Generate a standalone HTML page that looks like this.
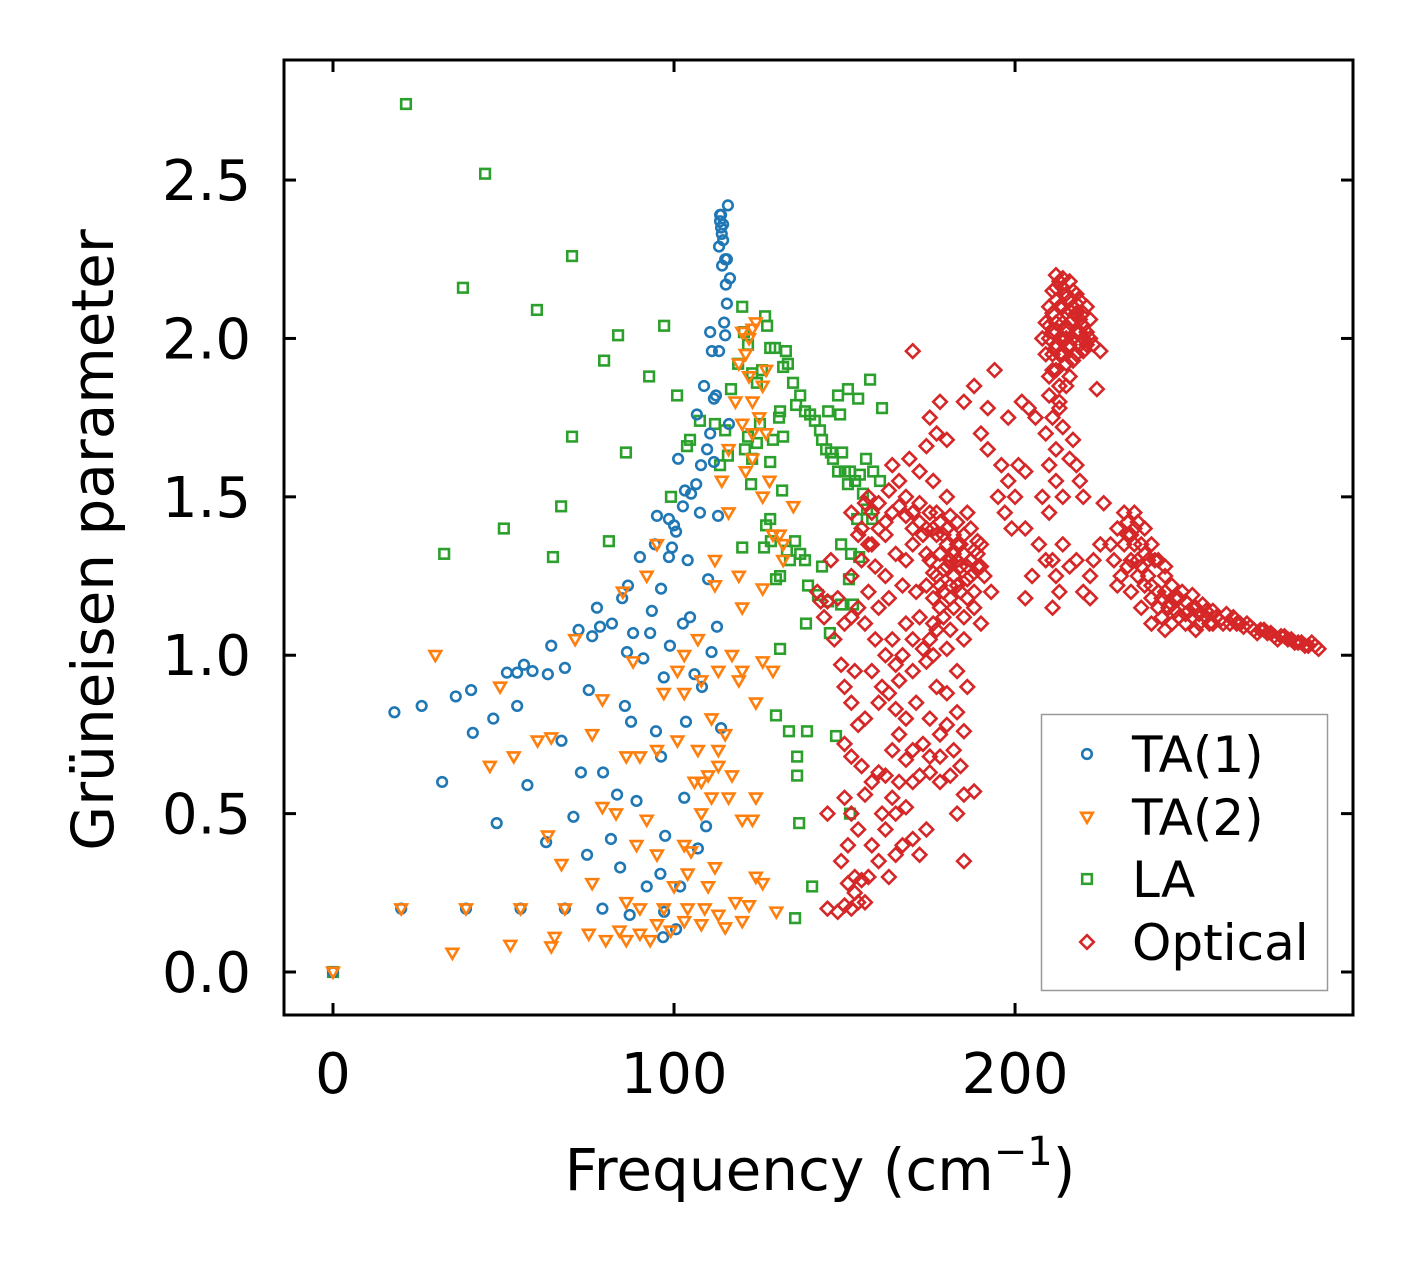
<!DOCTYPE html>
<html><head><meta charset="utf-8"><style>
html,body{margin:0;padding:0;background:#fff;}
svg text{font-family:"DejaVu Sans","Liberation Sans",sans-serif;fill:#000;}
</style></head><body>
<svg id="chart" width="1413" height="1264" viewBox="0 0 1413 1264" xmlns="http://www.w3.org/2000/svg">
<rect width="1413" height="1264" fill="#fff"/>
<g id="marks"></g>
<g id="axes"></g>
</svg>
<script>
const xTicks=[0,100,200];
const xTickLabels=["0","100","200"];
const yTicks=[0,0.5,1,1.5,2,2.5];
const yTickLabels=["0.0","0.5","1.0","1.5","2.0","2.5"];
const seriesNames=["TA(1)","TA(2)","LA","Optical"];
const ta1=[[0,0],[18,0.82],[26,0.84],[36,0.87],[40.5,0.89],[20,0.2],[39,0.2],[55,0.2],[68,0.2],[79,0.2],[32,0.6],[48,0.47],[41,0.755],[47,0.8],[51,0.945],[54,0.945],[56,0.97],[54,0.84],[57,0.59],[62.5,0.41],[63,0.94],[64,1.03],[67,0.73],[68,0.96],[70.5,0.49],[72,1.08],[72.7,0.63],[74.5,0.37],[75,0.89],[76,1.06],[77.4,1.15],[78.3,1.09],[79.2,0.63],[81.8,1.1],[81.5,0.42],[83.3,0.56],[84.2,0.33],[84.8,1.18],[85.6,0.84],[86.2,1.01],[86.5,1.22],[87.4,0.79],[87,0.18],[89,0.54],[90,1.31],[92,0.27],[94.4,1.35],[94.7,0.76],[95,1.44],[96,0.31],[96.2,0.68],[96.8,0.11],[97.1,0.19],[97.4,0.43],[98.5,1.43],[98.8,1.03],[99.4,1.34],[100,1.41],[100.6,0.135],[101.2,1.62],[101.8,0.27],[102.6,1.1],[103,0.55],[103.2,1.52],[103.5,0.79],[104,1.3],[104.7,1.12],[106,0.94],[106.7,1.76],[107,0.39],[107.6,1.45],[108.2,0.9],[108.8,1.85],[109.4,0.46],[110,1.24],[110.6,2.02],[111,1.01],[111.1,1.96],[111.7,1.61],[112.3,1.82],[112.6,1.09],[112.9,1.44],[113.2,2.29],[113.5,2.39],[113.8,0.77],[114.1,2.23],[114.4,2.36],[115,2.01],[115.2,2.17],[115.5,2.25],[115.8,2.42],[116.1,1.73],[116.4,2.19],[113.8,2.35],[114.4,2.31],[115,2.25],[115.5,2.11],[114.7,2.05],[113.2,1.96],[111.7,1.81],[110.6,1.7],[109.7,1.65],[107.9,1.6],[106.5,1.54],[105,1.51],[102.6,1.47],[100.6,1.39],[98.5,1.31],[96.2,1.21],[93.5,1.14],[88,1.07],[91,0.99],[93,1.07],[58.5,0.95],[97,0.93],[113.5,2.37],[114,2.33],[113.8,2.39]];
const ta2=[[0,0],[20,0.2],[39,0.2],[55,0.2],[68,0.2],[35,0.06],[52,0.085],[64,0.08],[65,0.11],[75,0.12],[80,0.1],[86,0.1],[90,0.12],[93,0.1],[95,0.15],[99,0.13],[103,0.16],[108,0.15],[115,0.14],[120,0.16],[84,0.13],[90,0.2],[97,0.2],[104,0.2],[109,0.2],[118,0.22],[122,0.21],[130,0.19],[113,0.18],[100,0.27],[110,0.27],[126,0.28],[124,0.3],[104,0.31],[112,0.33],[76,0.28],[86,0.22],[67,0.34],[89,0.4],[95,0.37],[103,0.4],[105,0.38],[108,0.5],[120,0.48],[116,0.55],[123,0.48],[124,0.55],[111,0.55],[83,0.5],[92,0.48],[79,0.52],[63,0.43],[46,0.65],[53,0.68],[60,0.73],[64,0.74],[76,0.75],[86,0.68],[90,0.68],[95,0.7],[101,0.73],[106,0.6],[108,0.6],[113,0.7],[115,0.75],[117,0.62],[110,0.62],[101,0.95],[108,0.92],[119,0.92],[120,0.95],[124,0.85],[126,0.98],[129,0.95],[30,1.0],[49,0.9],[71,1.05],[79,0.86],[88,0.98],[97,0.88],[103,0.88],[113,0.95],[117,1.0],[120,1.15],[126,1.21],[129,1.38],[132,1.3],[135,1.47],[128,1.55],[121,1.58],[123,1.62],[126,1.5],[112,1.3],[119,1.25],[92,1.25],[95,1.35],[85,1.2],[116,1.45],[114,1.55],[118,1.8],[120,1.73],[123,1.7],[125,1.75],[127,1.7],[119,1.92],[121,1.95],[122,2.0],[123,2.03],[124,2.05],[120,2.02],[126,1.85],[127,1.9],[122,1.88],[123,1.8],[116,1.65],[112,1.22],[107,1.05],[103,1.0],[107,0.7],[111,0.8],[113,0.65],[131,1.38],[132,1.35]];
const la=[[0,0],[21.4,2.74],[38.1,2.16],[44.6,2.52],[59.8,2.09],[70.1,2.26],[70.1,1.69],[66.9,1.47],[50.1,1.4],[32.6,1.32],[64.5,1.31],[80.9,1.36],[85.9,1.64],[83.6,2.01],[79.5,1.93],[92.7,1.88],[97.1,2.04],[100.9,1.82],[99.1,1.5],[103.8,1.66],[104.7,1.68],[107.6,1.74],[112,1.73],[115,1.71],[116.7,1.84],[118.8,1.92],[120,2.1],[120.5,2.02],[121.7,1.98],[122.9,1.89],[124.3,1.86],[125.8,1.9],[126.7,2.07],[127.3,2.04],[128.2,1.97],[129.6,1.97],[131.1,1.77],[132,1.91],[132.8,1.96],[133.4,1.92],[134.9,1.86],[137,1.82],[138.4,1.77],[139.9,1.76],[141.3,1.74],[142.8,1.71],[143.4,1.68],[144.6,1.65],[146.6,1.62],[148.1,1.58],[150.1,1.58],[151.6,1.58],[153.1,1.55],[154.5,1.57],[156.3,1.62],[158.4,1.58],[160.4,1.55],[120.8,1.65],[121.7,1.69],[122.9,1.62],[127,1.41],[128.4,1.36],[129.9,1.24],[131.1,1.25],[133.1,1.33],[134,1.3],[135.5,1.36],[137,1.32],[138.4,1.3],[139.3,1.22],[138.7,1.1],[142.2,1.19],[145.2,1.17],[145.7,1.07],[149,1.16],[151.3,1.24],[151.9,1.32],[152.5,1.16],[131.1,1.02],[129.9,0.81],[133.7,0.76],[136.1,0.68],[136.1,0.62],[139,0.76],[147.5,0.745],[136.7,0.47],[140.5,0.27],[135.5,0.17],[151.6,0.5],[157.5,1.87],[151,1.84],[154,1.81],[135.8,1.79],[132,1.69],[130.8,1.75],[145.2,1.77],[148.7,1.76],[148.1,1.82],[146,1.64],[149.3,1.64],[151,1.54],[155.4,1.51],[156.6,1.46],[158.1,1.43],[153.7,1.43],[154.3,1.31],[149,1.35],[143.4,1.28],[128.2,1.61],[124.3,1.67],[125.2,1.73],[129,1.68],[131.7,1.52],[128.2,1.43],[126.4,1.34],[122.6,1.54],[120,1.34],[115.8,1.63],[113.5,1.6],[161,1.78]];
const optical=[[145,0.2],[148,0.19],[150,0.21],[152,0.2],[154,0.22],[151,0.28],[153,0.3],[155,0.29],[157,0.3],[149,0.35],[151,0.4],[154,0.45],[152,0.5],[145,0.5],[150,0.55],[156,0.56],[158,0.6],[160,0.63],[155,0.65],[152,0.68],[150,0.72],[154,0.78],[156,0.8],[152,0.85],[150,0.9],[153,0.95],[149,0.97],[147,1.05],[150,1.1],[145,1.17],[148,1.18],[152,1.25],[146,1.3],[143,1.17],[144,1.12],[142,1.2],
[160,0.35],[163,0.3],[165,0.37],[167,0.4],[170,0.42],[172,0.37],[174,0.45],[162,0.45],[165,0.5],[168,0.52],[162,0.62],[164,0.7],[166,0.75],[170,0.7],[173,0.72],[175,0.8],[178,0.75],[180,0.78],[183,0.82],[185,0.76],[178,0.6],[181,0.62],[185,0.56],[188,0.57],[183,0.5],[185,0.35],[172,0.62],[175,0.63],[168,0.8],[160,0.85],[163,0.88],[166,0.92],[170,0.95],[174,0.98],[176,1.0],[180,1.02],[183,0.95],[186,0.9],[180,0.88],[177,0.9],[171,0.85],[165,0.83],[161,0.9],[158,0.95],[164,1.05],[168,1.1],[172,1.12],[176,1.1],[181,1.08],[185,1.12],[190,1.1],[160,1.15],[157,1.2],[162,1.25],
[152,1.45],[155,1.4],[157,1.5],[160,1.48],[163,1.52],[166,1.55],[168,1.5],[170,1.45],[172,1.48],[175,1.45],[178,1.42],[180,1.4],[158,1.35],[162,1.38],[165,1.32],[168,1.3],[170,1.35],[173,1.38],[175,1.3],[177,1.25],[179,1.2],[181,1.3],[183,1.35],[185,1.32],[187,1.3],[189,1.28],[191,1.25],[193,1.2],[184,1.2],[186,1.18],[188,1.15],[182,1.25],[178,1.32],[176,1.18],[174,1.22],[171,1.2],[167,1.22],[163,1.18],[159,1.28],[187,1.4],[189,1.36],[186,1.45],[180,1.5],[176,1.55],[172,1.58],[164,1.6],[169,1.62],[177,1.38],[182,1.15],[185,1.05],[188,1.2],[190,1.35],[183,1.42],[179,1.27],[181,1.22],[184,1.28],[186,1.24],[178,1.15],[180,1.35],[182,1.38],[176,1.4],[174,1.32],
[177,1.45],[179,1.38],[181,1.44],[183,1.3],[185,1.38],[187,1.25],[189,1.32],[184,1.35],[182,1.32],[180,1.28],[178,1.22],[176,1.26],[174,1.4],[172,1.42],[170,1.4],[168,1.44],[166,1.47],[164,1.45],[162,1.42],[160,1.4],[158,1.45],[156,1.48],[186,1.28],[188,1.33],[190,1.28],[183,1.22],[181,1.18],[179,1.12],[177,1.08],[175,1.05],[173,1.02],[170,1.05],[167,1.0],[165,0.97],[162,1.0],[159,1.05],[156,1.1],[154,1.15],[152,1.12],[155,1.3],[157,1.35],[154,1.38],[153,0.25],[156,0.22],[158,0.4],[161,0.5],[164,0.55],[166,0.6],[168,0.67],[170,0.6],[175,0.68],[178,0.68],[182,0.7],[184,0.65],
[170,1.96],[174,1.66],[175,1.75],[178,1.8],[177,1.7],[180,1.68],[185,1.8],[188,1.85],[190,1.7],[192,1.65],[194,1.9],[196,1.6],[198,1.55],[195,1.5],[197,1.45],[199,1.4],[200,1.5],[202,1.8],[204,1.78],[206,1.75],[201,1.6],[203,1.58],[205,1.25],[207,1.35],[198,1.75],[192,1.78],[203,1.4],[203,1.18],
[208,1.5],[210,1.45],[211,1.3],[212,1.25],[213,1.2],[211,1.15],[209,1.3],[214,1.35],[216,1.28],[218,1.3],[220,1.2],[222,1.18],[210,1.6],[212,1.65],[214,1.72],[216,1.62],[218,1.6],[209,1.7],[211,1.75],[213,1.8],[215,1.85],[217,1.68],[219,1.55],[220,1.5],[212,1.55],[214,1.5],
[209,2.05],[210,2.1],[211,2.15],[212,2.2],[213,2.18],[214,2.16],[215,2.14],[216,2.12],[217,2.1],[218,2.08],[219,2.06],[220,2.04],[221,2.02],[222,2.0],[223,1.98],[210,2.0],[211,1.95],[212,1.9],[213,1.85],[214,1.95],[215,2.0],[216,2.05],[217,2.0],[218,1.95],[219,1.98],[220,2.08],[221,2.1],[212,2.05],[213,2.1],[214,2.05],[215,1.92],[216,1.88],[217,1.93],[209,1.95],[210,1.88],[211,2.08],[212,2.12],[213,2.0],[214,2.1],[215,2.08],[216,1.98],[217,2.15],[218,2.02],[219,2.12],[210,1.82],[213,1.78],[225,1.96],[224,1.84],[208,2.0],[211,2.02],[212,1.97],[214,2.0],[216,2.18],[218,2.14],[220,1.96],[222,2.06],[210,2.04],[211,1.9],[213,1.95],[215,2.03],[217,2.06],[219,2.02],[221,1.98],[212,2.16],[214,2.19],[216,2.09],[218,2.11],[220,2.0],
[226,1.48],[228,1.35],[230,1.4],[232,1.45],[233,1.42],[234,1.38],[235,1.35],[236,1.3],[237,1.28],[238,1.32],[239,1.25],[240,1.22],[241,1.3],[242,1.2],[243,1.18],[244,1.25],[245,1.15],[246,1.22],[247,1.18],[248,1.12],[249,1.2],[250,1.17],[251,1.14],[252,1.19],[253,1.15],[254,1.13],[255,1.16],[256,1.12],[257,1.1],[258,1.14],[259,1.12],[260,1.11],[262,1.13],[263,1.1],[265,1.1],[267,1.09],[268,1.1],[270,1.08],[272,1.08],[274,1.07],[276,1.06],[278,1.06],[280,1.05],[282,1.04],[284,1.04],[286,1.03],[288,1.03],[231,1.25],[234,1.2],[237,1.15],[240,1.1],[243,1.12],[246,1.1],[236,1.42],[238,1.4],[240,1.35],[242,1.3],[244,1.28],[235,1.45],[229,1.3],[230,1.22],[233,1.28],[250,1.1],[253,1.08],[247,1.14],[244,1.08],[223,1.3],[225,1.35],[222,1.25],
[232,1.35],[234,1.3],[236,1.25],[238,1.22],[240,1.18],[242,1.15],[244,1.2],[246,1.16],[248,1.18],[250,1.13],[252,1.12],[254,1.1],[256,1.14],[258,1.1],[261,1.1],[264,1.12],[266,1.1],[269,1.09],[271,1.07],[273,1.08],[275,1.07],[277,1.05],[279,1.06],[281,1.05],[283,1.04],[285,1.03],[287,1.04],[289,1.02],[233,1.38],[235,1.4],[237,1.35],[239,1.3]];

const L=284,T=60,R=1353,B=1015;
const xMin=-14.37,xMax=299.1,yMin=-0.1357,yMax=2.879;
function xs(v){return L+(v-xMin)/(xMax-xMin)*(R-L);}
function ys(v){return B-(v-yMin)/(yMax-yMin)*(B-T);}
const NS="http://www.w3.org/2000/svg";
const marks=document.getElementById('marks');
const axes=document.getElementById('axes');
function mk(tag,attrs,parent){const e=document.createElementNS(NS,tag);for(const k in attrs)e.setAttribute(k,attrs[k]);parent.appendChild(e);return e;}
const colors=["#1f77b4","#ff7f0e","#2ca02c","#d62728"];
function marker(kind,cx,cy,color,parent){
  let e;
  if(kind===0){e=mk('circle',{cx:cx,cy:cy,r:4.8,fill:'none',stroke:color,'stroke-width':2.6},parent);}
  else if(kind===1){e=mk('path',{d:`M${cx-5.8},${cy-4.2} L${cx+5.8},${cy-4.2} L${cx},${cy+5.8} Z`,fill:'none',stroke:color,'stroke-width':2.6},parent);}
  else if(kind===2){e=mk('rect',{x:cx-4.8,y:cy-4.8,width:9.6,height:9.6,fill:'none',stroke:color,'stroke-width':2.6},parent);}
  else {e=mk('path',{d:`M${cx},${cy-6.8} L${cx+6.8},${cy} L${cx},${cy+6.8} L${cx-6.8},${cy} Z`,fill:'none',stroke:color,'stroke-width':2.6},parent);}
  return e;
}
const order=[[2,la],[0,ta1],[1,ta2],[3,optical]];
const seriesKeys=["ta1","ta2","la","optical"];
order.forEach(([k,data])=>{
  const g=mk('g',{},marks);
  
  
  data.forEach(p=>{
    const e=marker(k,xs(p[0]),ys(p[1]),colors[k],g);
    
    
  });
});
const frame=mk('rect',{x:L,y:T,width:R-L,height:B-T,fill:'none',stroke:'#000','stroke-width':3},axes);


xTicks.forEach((v,i)=>{
  const x=xs(v);
  const t1=mk('line',{x1:x,y1:B,x2:x,y2:B-12,stroke:'#000','stroke-width':3},axes);
  
  
  const t2=mk('line',{x1:x,y1:T,x2:x,y2:T+12,stroke:'#000','stroke-width':3},axes);
  
  
  const tx=mk('text',{x:x,y:1093,'font-size':56,'text-anchor':'middle'},axes);
  tx.textContent=xTickLabels[i];
  
  
});
yTicks.forEach((v,i)=>{
  const y=ys(v);
  const t1=mk('line',{x1:L,y1:y,x2:L+12,y2:y,stroke:'#000','stroke-width':3},axes);
  
  
  const t2=mk('line',{x1:R,y1:y,x2:R-12,y2:y,stroke:'#000','stroke-width':3},axes);
  
  
  const tx=mk('text',{x:251,y:y+20,'font-size':56,'text-anchor':'end'},axes);
  tx.textContent=yTickLabels[i];
  
  
});
const xl=mk('text',{x:820,y:1190,'font-size':58,'text-anchor':'middle'},axes);
xl.innerHTML='Frequency (cm<tspan dy="-25" font-size="40">−1</tspan><tspan dy="25">)</tspan>';


const yl=mk('text',{x:0,y:0,'font-size':58,'text-anchor':'middle',transform:'translate(113,540) rotate(-90)'},axes);
yl.textContent='Grüneisen parameter';


const lg=mk('g',{},axes);


mk('rect',{x:1041.5,y:714.5,width:286,height:276,fill:'#fff',stroke:'#999','stroke-width':1.5},lg);
const legY=[754,817,879,942];
seriesNames.forEach((n,i)=>{
  const eg=mk('g',{},lg);
  
  
  marker(i,1087,legY[i],colors[i],eg);
  const t=mk('text',{x:1132,y:legY[i]+18,'font-size':50},eg);
  t.textContent=n;
});
</script>
</body></html>
